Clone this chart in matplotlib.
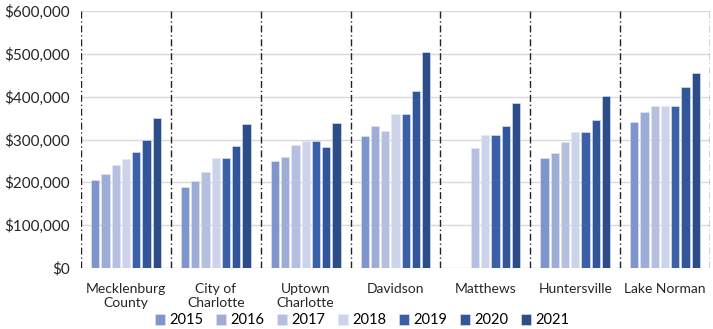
import numpy as np
import matplotlib
matplotlib.use("Agg")
import matplotlib.pyplot as plt
from matplotlib.ticker import FuncFormatter

plt.rcParams['font.family'] = ['Lato', 'DejaVu Sans']

places = ["Mecklenburg\nCounty", "City of\nCharlotte", "Uptown\nCharlotte",
          "Davidson", "Matthews", "Huntersville", "Lake Norman"]
years = ["2015", "2016", "2017", "2018", "2019", "2020", "2021"]

nan = np.nan
v2015 = [205000, 188000, 250000, 308000, nan, 256000, 342000]
v2016 = [219000, 202000, 260000, 331000, nan, 268000, 364000]
v2017 = [240000, 225000, 286000, 320000, 279000, 293000, 378000]
v2018 = [254000, 257000, 296000, 360000, 310000, 318000, 378000]
v2019 = [271000, 257000, 296000, 360000, 310000, 318000, 378000]
v2020 = [299000, 285000, 282000, 413000, 331000, 345000, 422000]
v2021 = [350000, 336000, 339000, 504000, 385000, 402000, 456000]
series = [v2015, v2016, v2017, v2018, v2019, v2020, v2021]

colors = ["#7F95CE", "#9DADD8", "#B5BFE0", "#CDD3EA",
          "#3A61A7", "#31579A", "#2C4D88"]

fig = plt.figure(figsize=(7.13, 3.29), dpi=100)
ax = fig.add_axes([81 / 713, 1 - 268 / 329, (710 - 81) / 713, (268 - 11) / 329])

n = len(years)
pitch = 0.114
width = 0.092
x = np.arange(len(places)) + 0.5
for i, (yr, vals, c) in enumerate(zip(years, series, colors)):
    offs = (i - (n - 1) / 2) * pitch
    ax.bar(x + offs, vals, width=width, color=c, edgecolor="#E4E8F2",
           linewidth=0.4, label=yr, zorder=3)

ax.set_xlim(0, len(places))
ax.set_ylim(0, 600000)
ax.set_yticks(np.arange(0, 600001, 100000))
ax.yaxis.set_major_formatter(FuncFormatter(lambda v, p: f"${v:,.0f}"))
ax.grid(axis="y", color="#D9D9D9", linewidth=1.0, zorder=0)
ax.set_xticks(x)
ax.set_xticklabels(places, fontsize=10, color="#262626", linespacing=1.2)
ax.tick_params(axis="both", length=0)
ax.tick_params(axis="y", labelsize=11, labelcolor="#262626", pad=8)
ax.tick_params(axis="x", pad=11)
for s in ax.spines.values():
    s.set_visible(False)

for b in range(len(places) + 1):
    ax.axvline(b, color="#222222", linewidth=1.0,
               linestyle=(0, (5, 2, 1, 2)), zorder=4)

ax.legend(loc="center", bbox_to_anchor=(362 / 713, 1 - 320.5 / 329),
          bbox_transform=fig.transFigure, ncol=7, frameon=False,
          fontsize=10.5, handlelength=0.7, handleheight=0.7,
          handletextpad=0.3, columnspacing=0.85, borderpad=0)

fig.savefig("out.png", dpi=100)
